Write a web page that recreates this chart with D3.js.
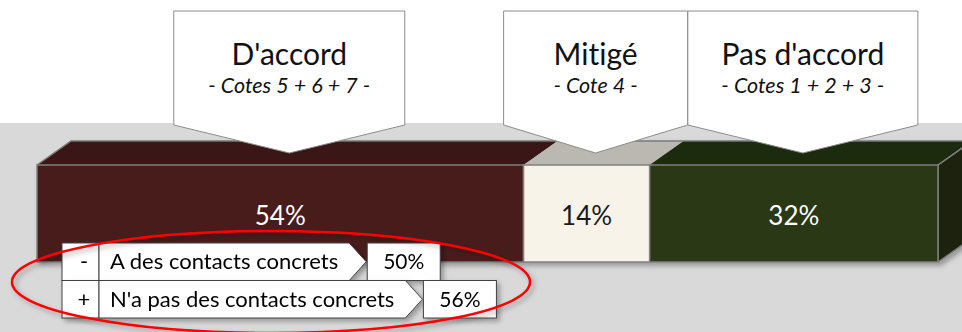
<!DOCTYPE html>
<html>
<head>
<meta charset="utf-8">
<script src="https://cdn.jsdelivr.net/npm/d3@7"></script>
<style>
   html, body { margin: 0; padding: 0; background: #ffffff; }
   svg { display: block; font-family: Lato, "Noto Sans", sans-serif; font-variant-ligatures: none; }
</style>
</head>
<body>
<div id="chart"></div>
<script>
// Data
let categories = ["D'accord", "Mitigé", "Pas d'accord"]
let subtitles = ["- Cotes 5 + 6 + 7 -", "- Cote 4 -", "- Cotes 1 + 2 + 3 -"]
let values = [54, 14, 32]
let groupSigns = ["-", "+"]
let groupLabels = ["A des contacts concrets", "N'a pas des contacts concrets"]
let groupValues = [50, 56]

// Styling
let frontColors = ["#4a1a1b", "#f7f3e9", "#2a3918"]
let topColors = ["#3b1414", "#bab8b0", "#1f2a10"]
let labelColors = ["#ffffff", "#1a1a1a", "#ffffff"]
let calloutWidths = [231, 184, 230]

let width = 962
let height = 332
let barTop = 165
let barBottom = 262
let depthX = 34
let depthY = 24

let svg = d3.select("#chart").append("svg")
   .attr("width", width)
   .attr("height", height)

let defs = svg.append("defs")
let shadow = defs.append("filter").attr("id", "shadow")
   .attr("x", "-10%").attr("y", "-30%").attr("width", "130%").attr("height", "170%")
shadow.append("feDropShadow")
   .attr("dx", 3).attr("dy", 3).attr("stdDeviation", 2.5)
   .attr("flood-color", "#000").attr("flood-opacity", 0.3)

// Background: white top, grey floor
svg.append("rect").attr("width", width).attr("height", height).attr("fill", "#ffffff")
svg.append("rect").attr("y", 123).attr("width", width).attr("height", height - 123).attr("fill", "#d9d9d9")

let x = d3.scaleLinear().domain([0, 100]).range([37, 938])

// stacked segments
let segs = []
let acc = 0
values.forEach(function(v, i) {
   segs.push({ name: categories[i], sub: subtitles[i], value: v, x0: acc, x1: acc + v, i: i })
   acc += v
})

let bar = svg.append("g").attr("filter", "url(#shadow)")

// top faces
bar.selectAll("path.top").data(segs).enter().append("path")
   .attr("class", "top")
   .attr("fill", function(d) { return topColors[d.i] })
   .attr("d", function(d) {
      let a = x(d.x0), b = x(d.x1)
      return "M" + a + "," + barTop + "L" + b + "," + barTop +
         "L" + (b + depthX) + "," + (barTop - depthY) + "L" + (a + depthX) + "," + (barTop - depthY) + "Z"
   })

// side face
bar.append("path")
   .attr("fill", "#1b240e")
   .attr("stroke", "#7a7a7a")
   .attr("stroke-width", 1.5)
   .attr("d", "M" + x(100) + "," + barTop + "L" + (x(100) + depthX) + "," + (barTop - depthY) +
      "L" + (x(100) + depthX) + "," + (barBottom - depthY) + "L" + x(100) + "," + barBottom + "Z")

// outline of the top face
bar.append("path")
   .attr("fill", "none")
   .attr("stroke", "#7a7a7a")
   .attr("stroke-width", 1.5)
   .attr("d", "M" + x(0) + "," + barTop + "L" + (x(0) + depthX) + "," + (barTop - depthY) +
      "L" + (x(100) + depthX) + "," + (barTop - depthY) + "L" + x(100) + "," + barTop)

// front faces
bar.selectAll("rect.front").data(segs).enter().append("rect")
   .attr("class", "front")
   .attr("x", function(d) { return x(d.x0) })
   .attr("y", barTop)
   .attr("width", function(d) { return x(d.x1) - x(d.x0) })
   .attr("height", barBottom - barTop)
   .attr("fill", function(d) { return frontColors[d.i] })
   .attr("stroke", "#7f7f7f")
   .attr("stroke-width", 1.5)

svg.selectAll("text.value").data(segs).enter().append("text")
   .attr("class", "value")
   .attr("x", function(d) { return (x(d.x0) + x(d.x1)) / 2 })
   .attr("y", 225)
   .attr("text-anchor", "middle")
   .attr("font-size", 26)
   .attr("fill", function(d) { return labelColors[d.i] })
   .text(function(d) { return d.value + "%" })

// Callouts above each segment
let callouts = svg.selectAll("g.callout").data(segs).enter().append("g")
   .attr("class", "callout")
   .attr("transform", function(d) { return "translate(" + ((x(d.x0) + x(d.x1)) / 2 + 9) + ",0)" })

callouts.append("path")
   .attr("fill", "#ffffff")
   .attr("stroke", "#8c8c8c")
   .attr("stroke-width", 1)
   .attr("d", function(d) {
      let w = calloutWidths[d.i] / 2
      return "M" + (-w) + ",11H" + w + "V125L0,153L" + (-w) + ",125Z"
   })

callouts.append("text")
   .attr("text-anchor", "middle")
   .attr("y", 65)
   .attr("font-size", 30)
   .attr("fill", "#111111")
   .text(function(d) { return d.name })

callouts.append("text")
   .attr("text-anchor", "middle")
   .attr("y", 93)
   .attr("font-size", 21.5)
   .attr("font-style", "italic")
   .attr("fill", "#111111")
   .text(function(d) { return d.sub })

// Group comparison legend
let rowH = 37.5
let legend = svg.append("g").attr("transform", "translate(62,243)")

groupLabels.forEach(function(label, i) {
   let row = legend.append("g")
      .attr("transform", "translate(0," + (i * rowH) + ")")
      .attr("filter", "url(#shadow)")

   row.append("rect")
      .attr("width", 37).attr("height", rowH)
      .attr("fill", "#ffffff").attr("stroke", "#404040").attr("stroke-width", 1)

   let arrow = row.append("path")
      .attr("fill", "#ffffff").attr("stroke", "#404040").attr("stroke-width", 1)

   let valBox = row.append("rect")
      .attr("height", rowH)
      .attr("fill", "#ffffff").attr("stroke", "#404040").attr("stroke-width", 1)

   row.append("text")
      .attr("x", 22).attr("y", rowH / 2 + 7.5)
      .attr("text-anchor", "middle")
      .attr("font-size", 22)
      .text(groupSigns[i])

   let t = row.append("text")
      .attr("x", 48).attr("y", rowH / 2 + 7.5)
      .attr("font-size", 22)
      .text(label)

   let edge = 48 + t.node().getComputedTextLength() + 11
   let tip = edge + 17
   arrow.attr("d", "M37,0H" + edge + "L" + tip + "," + (rowH / 2) + "L" + edge + "," + rowH + "H37Z")
   valBox.attr("x", tip + 1).attr("width", 73)

   row.append("text")
      .attr("x", tip + 1 + 36.5).attr("y", rowH / 2 + 7.5)
      .attr("text-anchor", "middle")
      .attr("font-size", 21)
      .text(groupValues[i] + "%")
})

// Red highlight ellipse around the legend
svg.append("ellipse")
   .attr("cx", 271).attr("cy", 282)
   .attr("rx", 259).attr("ry", 51)
   .attr("fill", "none")
   .attr("stroke", "#ff0000")
   .attr("stroke-width", 2.5)
   .attr("filter", "url(#shadow)")
</script>
</body>
</html>
